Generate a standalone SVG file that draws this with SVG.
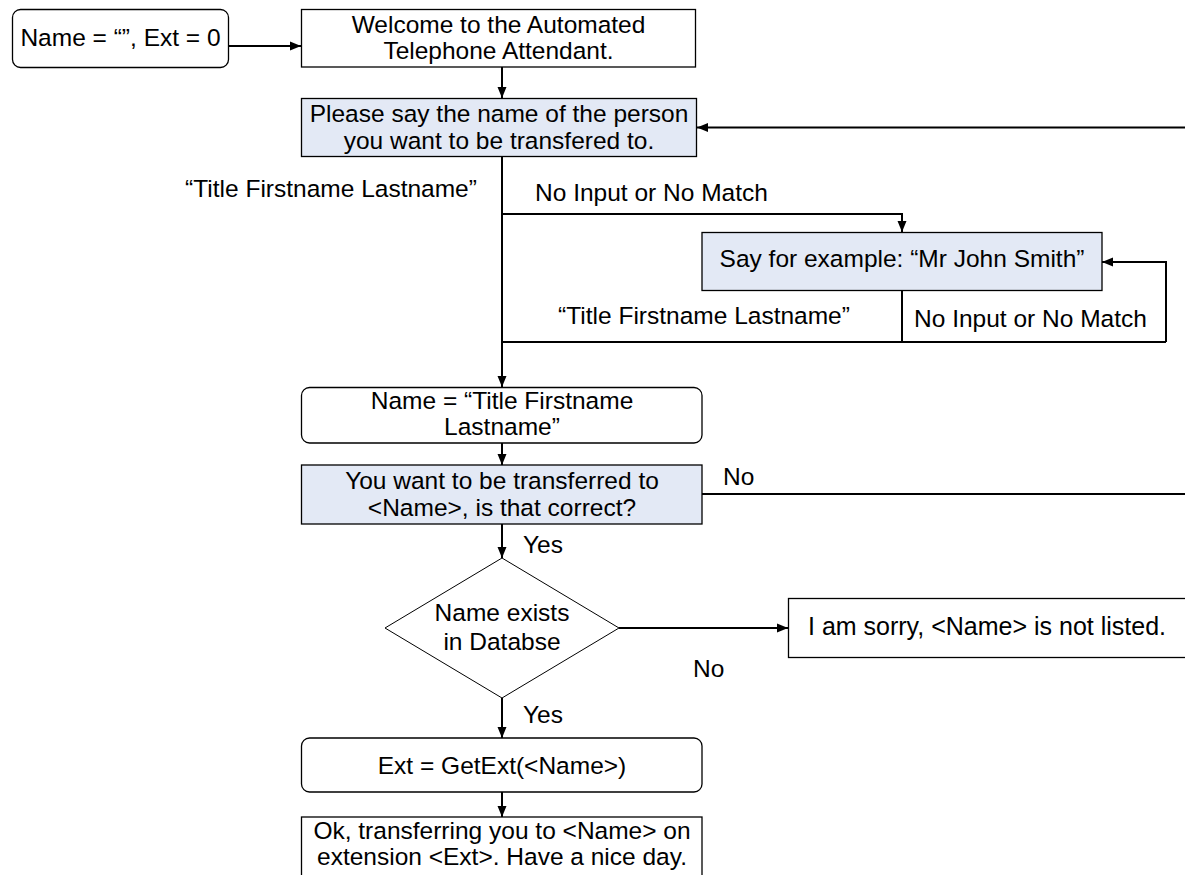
<svg xmlns="http://www.w3.org/2000/svg" width="1185" height="875" viewBox="0 0 1185 875">
<defs>
<marker id="arr" markerUnits="userSpaceOnUse" markerWidth="12" markerHeight="10" refX="11" refY="5" orient="auto">
<path d="M0,0.5 L11,5 L0,9.5 Z" fill="#000"/>
</marker>
<style>
text{font-family:"Liberation Sans",Arial,sans-serif;font-size:24.5px;fill:#000}
.c{text-anchor:middle}
.box{fill:#fff;stroke:#000;stroke-width:1.3}
.blue{fill:#e3e9f5;stroke:#000;stroke-width:1.3}
.ln{fill:none;stroke:#000;stroke-width:2}
.arr{marker-end:url(#arr)}
</style>
</defs>
<rect width="1185" height="875" fill="#fff"/>
<g id="connectors">
<path class="ln arr" d="M229,46 H301"/>
<path class="ln arr" d="M502,67 V98"/>
<path class="ln arr" d="M1185,127.5 H697"/>
<path class="ln arr" d="M502,157 V387"/>
<path class="ln arr" d="M502,214 H902 V232"/>
<path class="ln" d="M902,291 V342"/>
<path class="ln" d="M502,342 H1166"/>
<path class="ln arr" d="M1166,342 V262 H1102"/>
<path class="ln arr" d="M502,443 V465"/>
<path class="ln" d="M702,494 H1185"/>
<path class="ln arr" d="M502,524 V558"/>
<path class="ln arr" d="M619,628 H788"/>
<path class="ln arr" d="M502,698 V738"/>
<path class="ln arr" d="M502,792 V817"/>
</g>
<g id="labels">
<text class="c" x="331" y="197">“Title Firstname Lastname”</text>
<text x="535" y="201">No Input or No Match</text>
<text class="c" x="704" y="324">“Title Firstname Lastname”</text>
<text x="914" y="327">No Input or No Match</text>
<text x="723" y="485">No</text>
<text x="523" y="553">Yes</text>
<text x="693" y="677">No</text>
<text x="523" y="723">Yes</text>
</g>
<g id="n_init">
<rect class="box" x="12.5" y="9.5" width="216" height="58" rx="8"/>
<text class="c" x="120.5" y="46">Name = “”, Ext = 0</text>
</g>
<g id="n_welcome">
<rect class="box" x="301.5" y="9.5" width="394" height="57.5"/>
<text class="c" x="498.5" y="32.5">Welcome to the Automated</text>
<text class="c" x="498.5" y="59">Telephone Attendant.</text>
</g>
<g id="n_please">
<rect class="blue" x="301.5" y="98.5" width="395" height="58"/>
<text class="c" x="499" y="122">Please say the name of the person</text>
<text class="c" x="499" y="148.5">you want to be transfered to.</text>
</g>
<g id="n_say">
<rect class="blue" x="702" y="232.5" width="400" height="58"/>
<text class="c" x="902" y="267">Say for example: “Mr John Smith”</text>
</g>
<g id="n_name">
<rect class="box" x="301.5" y="387.5" width="400.5" height="55.5" rx="8"/>
<text class="c" x="502" y="409">Name = “Title Firstname</text>
<text class="c" x="502" y="434.5">Lastname”</text>
</g>
<g id="n_confirm">
<rect class="blue" x="301.5" y="465" width="400.5" height="59"/>
<text class="c" x="502" y="489">You want to be transferred to</text>
<text class="c" x="502" y="515.5">&lt;Name&gt;, is that correct?</text>
</g>
<g id="n_exists">
<polygon class="box" points="502,558 619,628 502,698 385,628" style="stroke-width:1"/>
<text class="c" x="502" y="621">Name exists</text>
<text class="c" x="502" y="649.5">in Databse</text>
</g>
<g id="n_sorry">
<rect class="box" x="788.5" y="598.5" width="400" height="59"/>
<text x="808" y="635" style="font-size:25px">I am sorry, &lt;Name&gt; is not listed.</text>
</g>
<g id="n_getext">
<rect class="box" x="301.5" y="738" width="400.5" height="54" rx="8"/>
<text class="c" x="502" y="774">Ext = GetExt(&lt;Name&gt;)</text>
</g>
<g id="n_ok">
<rect class="box" x="301.5" y="817" width="400.5" height="62"/>
<text class="c" x="502" y="838.5">Ok, transferring you to &lt;Name&gt; on</text>
<text class="c" x="502" y="865">extension &lt;Ext&gt;. Have a nice day.</text>
</g>
</svg>
